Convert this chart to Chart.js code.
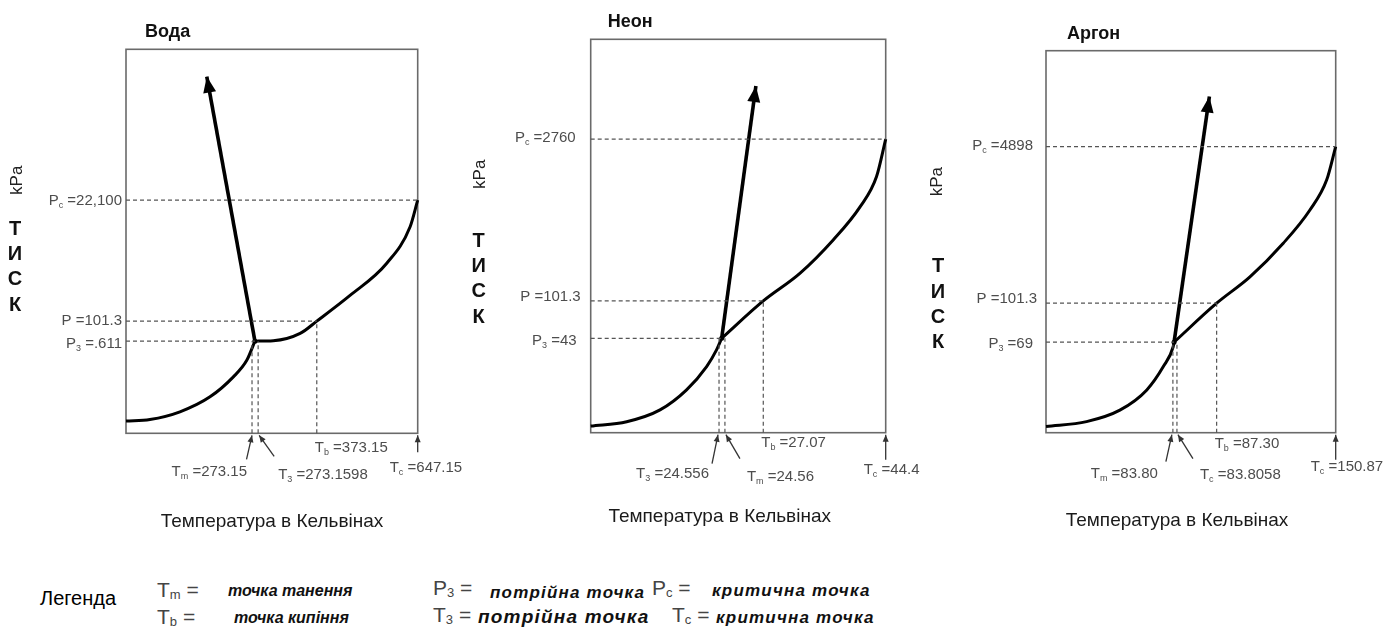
<!DOCTYPE html>
<html>
<head>
<meta charset="utf-8">
<script src="https://cdn.jsdelivr.net/npm/chart.js@4.4.0/dist/chart.umd.min.js"></script>
<style>
  body { margin: 0; background: #fff; width: 1384px; height: 629px; overflow: hidden; position: relative; font-family: "Liberation Sans", Arial, sans-serif; }
  canvas { position: absolute; top: 0; }
  .lg { position: absolute; white-space: nowrap; line-height: 1; }
  .sym { font-size: 21px; color: #444; }
  .sym sub { font-size: 13px; vertical-align: -2px; }
  .desc { font-weight: bold; font-style: italic; font-size: 17px; letter-spacing: 1.2px; color: #111; }
  .small { font-size: 16px; letter-spacing: 0; }
</style>
</head>
<body>
<canvas id="water" width="470" height="560" style="left:0px"></canvas>
<canvas id="neon" width="450" height="560" style="left:470px"></canvas>
<canvas id="argon" width="464" height="560" style="left:920px"></canvas>

<div class="lg" style="left:40px;top:588px;font-size:20px">Легенда</div>
<div class="lg sym" style="left:157px;top:579px">T<sub>m</sub> =</div>
<div class="lg desc small" style="left:228px;top:583px">точка танення</div>
<div class="lg sym" style="left:157px;top:606px">T<sub>b</sub> =</div>
<div class="lg desc small" style="left:234px;top:610px">точка кипіння</div>
<div class="lg sym" style="left:433px;top:577px">P<sub>3</sub> =</div>
<div class="lg desc" style="left:490px;top:584px">потрійна точка</div>
<div class="lg sym" style="left:652px;top:577px">P<sub>c</sub> =</div>
<div class="lg desc" style="left:712px;top:582px">критична точка</div>
<div class="lg sym" style="left:433px;top:604px">T<sub>3</sub> =</div>
<div class="lg desc" style="left:478px;top:607px;font-size:19px;letter-spacing:1.2px">потрійна точка</div>
<div class="lg sym" style="left:672px;top:604px">T<sub>c</sub> =</div>
<div class="lg desc" style="left:716px;top:609px">критична точка</div>

<script>
// Schematic phase diagrams: both axes run 0–100 along each box (not to scale)
const tempAxisTitle = 'Температура в Кельвінах';
const pressureUnit = 'kPa';
const pressureLetters = ['Т', 'И', 'С', 'К'];

// Вода
const waterTitle = 'Вода';
const waterSublimationT = [0, 8.2, 18.5, 28.8, 36.8, 41.4, 44.2];
const waterSublimationP = [3.2, 3.6, 5.6, 9.5, 14.7, 19.0, 24.0];
const waterVaporT = [44.2, 50.5, 59.7, 65.4, 76.8, 89.4, 97.4, 100];
const waterVaporP = [24.0, 24.1, 26.0, 29.2, 35.9, 44.3, 53.8, 60.7];
const waterFusionT = [44.2, 27.7];
const waterFusionP = [24.0, 92.9];
const waterPressures = [60.7, 29.2, 24.0];           // Pc, P, P3
const waterPressureLabels = ['P_c =22,100', 'P =101.3', 'P_3 =.611'];
const waterTemps = [43.2, 45.3, 65.4, 100];          // Tm, T3, Tb, Tc
const waterTempLabels = ['T_m =273.15', 'T_3 =273.1598', 'T_b =373.15', 'T_c =647.15'];

// Неон
const neonTitle = 'Неон';
const neonSublimationT = [0, 12.2, 23.5, 32.5, 39.3, 42.7, 44.4];
const neonSublimationP = [1.7, 2.8, 5.8, 10.9, 16.8, 21.1, 24.0];
const neonVaporT = [44.4, 58.5, 70.9, 82.2, 91.3, 96.9, 100];
const neonVaporP = [24.0, 33.5, 40.5, 49.0, 57.4, 65.1, 74.6];
const neonFusionT = [44.4, 56.0];
const neonFusionP = [24.0, 88.1];
const neonPressures = [74.6, 33.5, 24.0];
const neonPressureLabels = ['P_c =2760', 'P =101.3', 'P_3 =43'];
const neonTemps = [45.5, 43.5, 58.5, 100];
const neonTempLabels = ['T_m =24.56', 'T_3 =24.556', 'T_b =27.07', 'T_c =44.4'];

// Аргон
const argonTitle = 'Аргон';
const argonSublimationT = [0, 14.0, 25.5, 34.8, 40.5, 43.9, 44.2];
const argonSublimationP = [1.6, 2.9, 5.9, 11.2, 17.3, 22.5, 23.7];
const argonVaporT = [44.2, 58.9, 70.4, 81.9, 91.1, 96.9, 100];
const argonVaporP = [23.7, 33.9, 40.8, 49.6, 58.3, 66.2, 74.9];
const argonFusionT = [44.2, 56.4];
const argonFusionP = [23.7, 88.0];
const argonPressures = [74.9, 33.9, 23.7];
const argonPressureLabels = ['P_c =4898', 'P =101.3', 'P_3 =69'];
const argonTemps = [43.8, 45.2, 58.9, 100];
const argonTempLabels = ['T_m =83.80', 'T_c =83.8058', 'T_b =87.30', 'T_c =150.87'];

const NARROW = '"Liberation Sans Narrow", "Arial Narrow", "Liberation Sans", sans-serif';
const SANS = '"Liberation Sans", Arial, sans-serif';

function pts(xs, ys) { return xs.map((v, i) => ({x: v, y: ys[i]})); }

// draws 'T_m =273.15' with the character after '_' as a subscript
function subText(ctx, str, x, y, align, size, family) {
  const segs = [];
  for (let i = 0; i < str.length; i++) {
    if (str[i] === '_') { segs.push({t: str[i + 1], sub: true}); i++; }
    else if (segs.length && !segs[segs.length - 1].sub) segs[segs.length - 1].t += str[i];
    else segs.push({t: str[i], sub: false});
  }
  const mainF = size + 'px ' + family, subF = Math.round(size * 0.62) + 'px ' + family;
  let w = 0;
  segs.forEach(s => { ctx.font = s.sub ? subF : mainF; s.w = ctx.measureText(s.t).width; w += s.w; });
  let cx = align === 'right' ? x - w : align === 'center' ? x - w / 2 : x;
  ctx.textAlign = 'left';
  ctx.textBaseline = 'middle';
  segs.forEach(s => {
    ctx.font = s.sub ? subF : mainF;
    ctx.fillText(s.t, cx, s.sub ? y + size * 0.3 : y);
    cx += s.w;
  });
}

function arrow(ctx, x0, y0, x1, y1, len, half) {
  const ang = Math.atan2(y1 - y0, x1 - x0);
  ctx.beginPath();
  ctx.moveTo(x1, y1);
  ctx.lineTo(x1 - len * Math.cos(ang) + half * Math.sin(ang), y1 - len * Math.sin(ang) - half * Math.cos(ang));
  ctx.lineTo(x1 - len * Math.cos(ang) - half * Math.sin(ang), y1 - len * Math.sin(ang) + half * Math.cos(ang));
  ctx.closePath();
  ctx.fill();
}

function makeDecor(d) {
  return {
    id: 'phaseDecor',
    beforeDatasetsDraw(chart) {
      const {ctx, chartArea: a} = chart;
      ctx.save();
      ctx.strokeStyle = '#6a6a6a';
      ctx.lineWidth = 1.6;
      ctx.strokeRect(a.left, a.top, a.right - a.left, a.bottom - a.top);
      ctx.restore();
    },
    afterDatasetsDraw(chart) {
      const {ctx, chartArea: a, scales: {x, y}} = chart;
      ctx.save();
      ctx.fillStyle = '#000';
      // head of the melting line
      const n = d.fusionT.length;
      arrow(ctx, x.getPixelForValue(d.fusionT[n - 2]), y.getPixelForValue(d.fusionP[n - 2]),
        x.getPixelForValue(d.fusionT[n - 1]), y.getPixelForValue(d.fusionP[n - 1]), 16, 6.5);

      // pressure labels
      ctx.fillStyle = '#4d4d4d';
      d.pressureLabels.forEach((s, i) => {
        const o = d.pLayout[i];
        subText(ctx, s, a.left + o[0], y.getPixelForValue(d.pressures[i]) + o[1], 'right', 15, NARROW);
      });
      // temperature labels + pointer arrows
      d.tempLabels.forEach((s, i) => {
        const o = d.tLayout[i];
        const px = x.getPixelForValue(d.temps[i]);
        subText(ctx, s, px + o.dx, a.bottom + o.dy, o.align, 15, NARROW);
        if (o.tail) {
          ctx.strokeStyle = '#333';
          ctx.fillStyle = '#333';
          ctx.lineWidth = 1.3;
          const hx = px + o.head[0], hy = a.bottom + o.head[1];
          const tx = px + o.tail[0], ty = a.bottom + o.tail[1];
          ctx.beginPath();
          ctx.moveTo(tx, ty);
          ctx.lineTo(hx, hy);
          ctx.stroke();
          arrow(ctx, tx, ty, hx, hy, 7, 3);
          ctx.fillStyle = '#4d4d4d';
        }
      });

      // titles
      ctx.fillStyle = '#111';
      ctx.font = 'bold 18px ' + SANS;
      ctx.textAlign = 'left';
      ctx.textBaseline = 'middle';
      ctx.fillText(d.title, a.left + d.titleDx, a.top - 17);

      ctx.font = '17px ' + SANS;
      ctx.fillStyle = '#222';
      ctx.save();
      ctx.translate(a.left + d.unitPos[0], a.top + d.unitPos[1]);
      ctx.rotate(-Math.PI / 2);
      ctx.textAlign = 'center';
      ctx.fillText(pressureUnit, 0, 0);
      ctx.restore();

      ctx.font = 'bold 20px ' + SANS;
      ctx.fillStyle = '#111';
      ctx.textAlign = 'center';
      pressureLetters.forEach((c, i) => {
        ctx.fillText(c, a.left + d.lettersPos[0], a.top + d.lettersPos[1] + i * 25.3);
      });

      ctx.font = '19px ' + NARROW;
      ctx.fillStyle = '#1a1a1a';
      ctx.fillText(tempAxisTitle, a.left + d.xTitlePos[0], a.bottom + d.xTitlePos[1]);
      ctx.restore();
    }
  };
}

function buildChart(id, d, padding) {
  const tripleT = d.fusionT[0], tripleP = d.fusionP[0];
  const [pc, pb, p3] = d.pressures;
  const [tm, t3, tb] = d.temps;
  const ref = {type: 'line', borderColor: '#555', borderWidth: 1.2, borderDash: [4, 3], pointRadius: 0, tension: 0, clip: false};
  const curve = {type: 'line', borderColor: '#000', borderWidth: 3, pointRadius: 0, clip: false, cubicInterpolationMode: 'monotone'};
  return new Chart(document.getElementById(id), {
    type: 'scatter',
    data: {
      datasets: [
        {...ref, data: [{x: 0, y: pc}, {x: 100, y: pc}]},
        {...ref, data: [{x: 0, y: pb}, {x: tb, y: pb}]},
        {...ref, data: [{x: 0, y: p3}, {x: tripleT, y: p3}]},
        {...ref, data: [{x: tm, y: 0}, {x: tm, y: p3}]},
        {...ref, data: [{x: t3, y: 0}, {x: t3, y: p3}]},
        {...ref, data: [{x: tb, y: 0}, {x: tb, y: pb}]},
        {...curve, data: pts(d.subT, d.subP)},
        {...curve, data: pts(d.vapT, d.vapP)},
        {...curve, borderWidth: 3.6, tension: 0, cubicInterpolationMode: 'default', data: pts(d.fusionT, d.fusionP)},
        {type: 'scatter', data: [{x: tripleT, y: tripleP}], pointRadius: 2.5, backgroundColor: '#000', borderWidth: 0, clip: false}
      ]
    },
    options: {
      responsive: false,
      animation: false,
      devicePixelRatio: 1,
      events: [],
      layout: {padding: padding},
      scales: {
        x: {type: 'linear', min: 0, max: 100, display: false},
        y: {type: 'linear', min: 0, max: 100, display: false}
      },
      plugins: {legend: {display: false}, tooltip: {enabled: false}}
    },
    plugins: [makeDecor(d)]
  });
}

buildChart('water', {
  title: waterTitle, titleDx: 19, unitPos: [-109, 131], lettersPos: [-111, 180], xTitlePos: [146, 88],
  subT: waterSublimationT, subP: waterSublimationP, vapT: waterVaporT, vapP: waterVaporP,
  fusionT: waterFusionT, fusionP: waterFusionP,
  pressures: waterPressures, pressureLabels: waterPressureLabels, pLayout: [[-4, 1], [-4, 0], [-4, 3]],
  temps: waterTemps, tempLabels: waterTempLabels,
  tLayout: [
    {dx: -5, dy: 39, align: 'right', tail: [-5.5, 26], head: [0, 2]},
    {dx: 20, dy: 42, align: 'left', tail: [16, 23], head: [1, 2]},
    {dx: -2, dy: 15, align: 'left'},
    {dx: -28, dy: 35, align: 'left', tail: [0, 19], head: [0, 2]}
  ]
}, {left: 126, top: 49.3, right: 52.3, bottom: 126.7});

buildChart('neon', {
  title: neonTitle, titleDx: 17, unitPos: [-110, 135], lettersPos: [-112, 202], xTitlePos: [129, 84],
  subT: neonSublimationT, subP: neonSublimationP, vapT: neonVaporT, vapP: neonVaporP,
  fusionT: neonFusionT, fusionP: neonFusionP,
  pressures: neonPressures, pressureLabels: neonPressureLabels, pLayout: [[-15, -1], [-10, -4], [-14, 3]],
  temps: neonTemps, tempLabels: neonTempLabels,
  tLayout: [
    {dx: 22, dy: 44, align: 'left', tail: [15, 26], head: [1, 2]},
    {dx: -10, dy: 41, align: 'right', tail: [-7, 31], head: [-1, 2]},
    {dx: -2, dy: 10, align: 'left'},
    {dx: -22, dy: 37, align: 'left', tail: [0, 27], head: [0, 2]}
  ]
}, {left: 120.7, top: 39.3, right: 34.3, bottom: 127.3});

buildChart('argon', {
  title: argonTitle, titleDx: 21, unitPos: [-108.5, 131], lettersPos: [-108, 216], xTitlePos: [131, 88],
  subT: argonSublimationT, subP: argonSublimationP, vapT: argonVaporT, vapP: argonVaporP,
  fusionT: argonFusionT, fusionP: argonFusionP,
  pressures: argonPressures, pressureLabels: argonPressureLabels, pLayout: [[-13, -1], [-9, -4], [-13, 2]],
  temps: argonTemps, tempLabels: argonTempLabels,
  tLayout: [
    {dx: -15, dy: 41, align: 'right', tail: [-7, 29], head: [-1, 2]},
    {dx: 23, dy: 42, align: 'left', tail: [16, 26], head: [1, 2]},
    {dx: -2, dy: 11, align: 'left'},
    {dx: -25, dy: 34, align: 'left', tail: [0, 27], head: [0, 2]}
  ]
}, {left: 126, top: 50.7, right: 48.3, bottom: 127.3});
</script>
</body>
</html>
